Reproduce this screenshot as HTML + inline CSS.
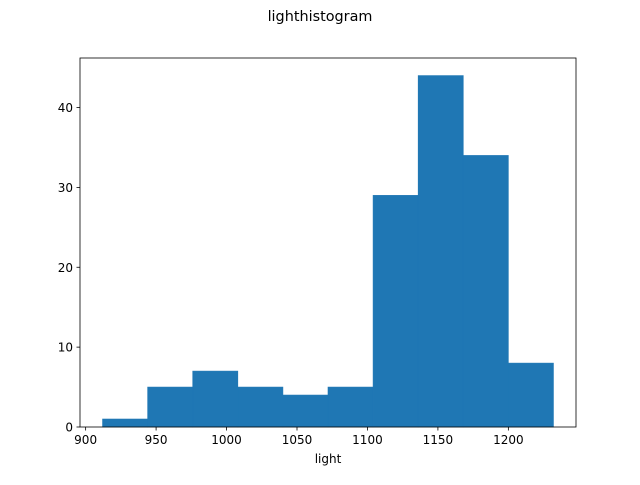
<!DOCTYPE html>
<html><head><meta charset="utf-8"><style>
body{margin:0;background:#fff;}
svg text{font-family:"DejaVu Sans","Liberation Sans",sans-serif;}
</style></head><body>
<svg id="chart" width="640" height="480" xmlns="http://www.w3.org/2000/svg">
<rect width="640" height="480" fill="#fff"/>
<text x="320" y="21" text-anchor="middle" font-size="14.4">lighthistogram</text>
<g id="bars"></g>
<g id="axes"></g>
<text x="328" y="463" text-anchor="middle" font-size="12">light</text>
</svg>
<script>
const binStart = 912;
const binWidth = 32;
const counts = [1,5,7,5,4,5,29,44,34,8];
const xTicks = [900,950,1000,1050,1100,1150,1200];
const yTicks = [0,10,20,30,40];

const L=80,R=576,T=58,B=427;
const xmin=binStart-0.05*binWidth*counts.length, xmax=binStart+binWidth*counts.length*1.05;
const ymax=Math.max(...counts)*1.05;
const xs=v=>L+(v-xmin)/(xmax-xmin)*(R-L);
const ys=v=>B-v/ymax*(B-T);
const NS="http://www.w3.org/2000/svg";
const bars=document.getElementById('bars'), axes=document.getElementById('axes');
function mk(tag,attrs,parent){const e=document.createElementNS(NS,tag);for(const k in attrs)e.setAttribute(k,attrs[k]);parent.appendChild(e);return e;}
counts.forEach((c,i)=>{
  const x0=xs(binStart+i*binWidth), x1=xs(binStart+(i+1)*binWidth);
  const r=mk('rect',{x:x0,y:ys(c),width:x1-x0,height:B-ys(c),fill:'#1f77b4',stroke:'#1f77b4','stroke-width':0.6},bars);
  
  
});
const frame=mk('rect',{x:L,y:T,width:R-L,height:B-T,fill:'none',stroke:'#000','stroke-width':0.8},axes);


xTicks.forEach(t=>{
  const x=xs(t);
  mk('line',{x1:x,x2:x,y1:B,y2:B+3.5,stroke:'#000','stroke-width':0.8},axes);
  const tx=mk('text',{x:x,y:B+17,'text-anchor':'middle','font-size':12},axes);
  tx.textContent=t;
  
  
});
yTicks.forEach(t=>{
  const y=ys(t);
  mk('line',{x1:L-3.5,x2:L,y1:y,y2:y,stroke:'#000','stroke-width':0.8},axes);
  const tx=mk('text',{x:L-7,y:y+4.5,'text-anchor':'end','font-size':12},axes);
  tx.textContent=t;
  
  
});
</script>
</body></html>
